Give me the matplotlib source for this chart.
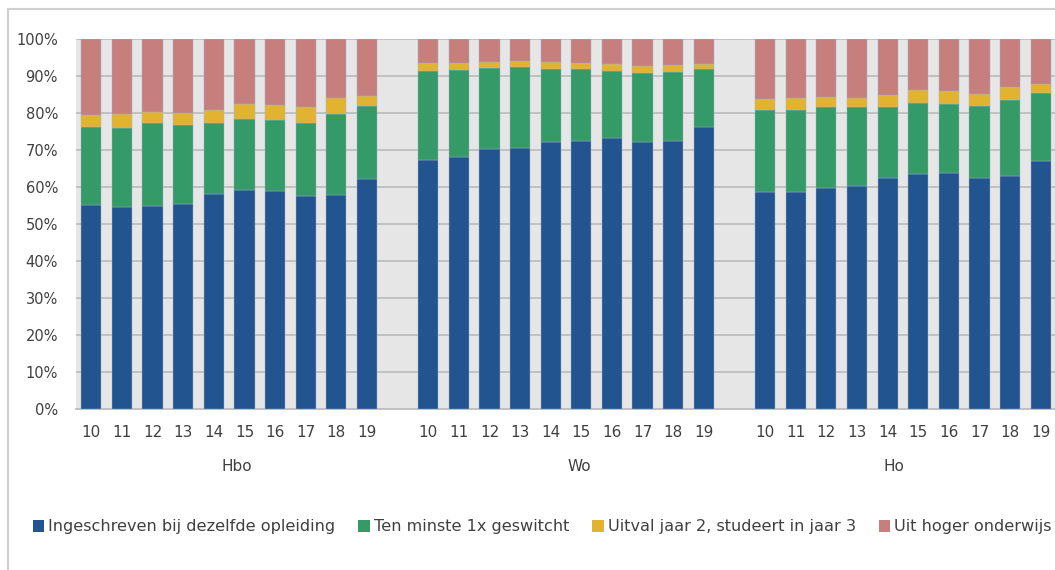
import numpy as np
import matplotlib
matplotlib.use("Agg")
import matplotlib.pyplot as plt
from matplotlib.lines import Line2D
from matplotlib.patches import Patch

# categories
GROUPS = ["Hbo", "Wo", "Ho"]
YEARS = ["10", "11", "12", "13", "14", "15", "16", "17", "18", "19"]

# cumulative tops (percent), per group
blue_top = {
    "Hbo": [55.1, 54.5, 54.9, 55.4, 58.1, 59.2, 58.9, 57.4, 57.7, 62.0],
    "Wo":  [67.1, 67.9, 70.1, 70.4, 72.0, 72.3, 73.2, 72.0, 72.3, 76.1],
    "Ho":  [58.6, 58.6, 59.6, 60.3, 62.4, 63.4, 63.6, 62.4, 63.0, 67.0],
}
green_top = {
    "Hbo": [76.2, 75.9, 77.2, 76.7, 77.2, 78.4, 78.1, 77.2, 79.6, 81.9],
    "Wo":  [91.4, 91.5, 92.1, 92.4, 91.9, 91.7, 91.4, 90.8, 90.9, 91.9],
    "Ho":  [80.6, 80.8, 81.6, 81.5, 81.6, 82.7, 82.4, 81.8, 83.5, 85.4],
}
yellow_top = {
    "Hbo": [79.5, 79.6, 80.2, 79.8, 80.8, 82.4, 82.1, 81.5, 84.0, 84.5],
    "Wo":  [93.4, 93.5, 93.8, 94.0, 93.7, 93.4, 93.2, 92.6, 92.9, 93.2],
    "Ho":  [83.7, 83.9, 84.2, 84.0, 84.8, 86.0, 85.8, 85.1, 87.0, 87.7],
}

SERIES = ["Ingeschreven bij dezelfde opleiding", "Ten minste 1x geswitcht",
          "Uitval jaar 2, studeert in jaar 3", "Uit hoger onderwijs"]
COLORS = ["#22548f", "#349a67", "#e2b331", "#c67f7d"]

# layout
W, H = 1055, 570
GAP = 1          # empty slots between groups
BAR_W = 0.66
LABEL_SHIFT = [0.24, 0.45, -0.3]  # group label fine offsets
TXT = "#404040"

plt.rcParams["font.family"] = ["DejaVu Sans"]
fig = plt.figure(figsize=(W / 100, H / 100), dpi=100)
ax = fig.add_axes([76 / W, 1 - 408.7 / H, (W - 76) / W + 0.001, (408.7 - 38.7) / H])
ax.set_facecolor("#e6e6e6")

xpos = []
for gi, g in enumerate(GROUPS):
    x = np.arange(len(YEARS)) + gi * (len(YEARS) + GAP)
    xpos.append(x)
    b = np.array(blue_top[g])
    gr = np.array(green_top[g])
    ye = np.array(yellow_top[g])
    parts = [b, gr - b, ye - gr, 100 - ye]
    bottom = np.zeros(len(YEARS))
    for vals, c in zip(parts, COLORS):
        ax.bar(x, vals, BAR_W, bottom=bottom, color=c, edgecolor="#9fb3c8",
               linewidth=0.3, zorder=3)
        bottom += vals

allx = np.concatenate(xpos)
ax.set_xlim(-0.5, allx[-1] + 0.5)
ax.set_ylim(0, 100)
ax.set_yticks(np.arange(0, 101, 10))
ax.set_yticklabels([f"{v}%" for v in range(0, 101, 10)])
ax.yaxis.grid(True, color="#c0c0c0", linewidth=1.4, zorder=0)
ax.set_axisbelow(True)
ax.set_xticks(allx)
ax.set_xticklabels(YEARS * len(GROUPS))
ax.tick_params(axis="both", length=0, colors=TXT)
ax.tick_params(axis="y", pad=13, labelsize=10.5)
ax.tick_params(axis="x", pad=12, labelsize=11)
for s in ["top", "right", "left"]:
    ax.spines[s].set_visible(False)
ax.spines["bottom"].set_color("#c0c0c0")
ax.spines["bottom"].set_linewidth(1.4)

for gi, (g, x) in enumerate(zip(GROUPS, xpos)):
    ax.text(x.mean() + LABEL_SHIFT[gi], -15.5, g, ha="center", va="center",
            fontsize=11, color=TXT, transform=ax.transData, clip_on=False)

# outer frame
fig.add_artist(Line2D([8 / W, 8 / W], [0, 1 - 9 / H], color="#d0d0d0", linewidth=1.5))
fig.add_artist(Line2D([8 / W, 1], [1 - 9 / H, 1 - 9 / H], color="#d0d0d0", linewidth=1.5))

handles = [Patch(facecolor=c, edgecolor="none") for c in COLORS]
fig.legend(handles, SERIES, loc="center left", bbox_to_anchor=(18 / W, 1 - 527 / H),
           ncol=4, frameon=False, fontsize=11.6, handlelength=0.7, handleheight=0.7,
           handletextpad=0.25, columnspacing=1.45, labelcolor=TXT)

fig.savefig("out.png", dpi=100)
